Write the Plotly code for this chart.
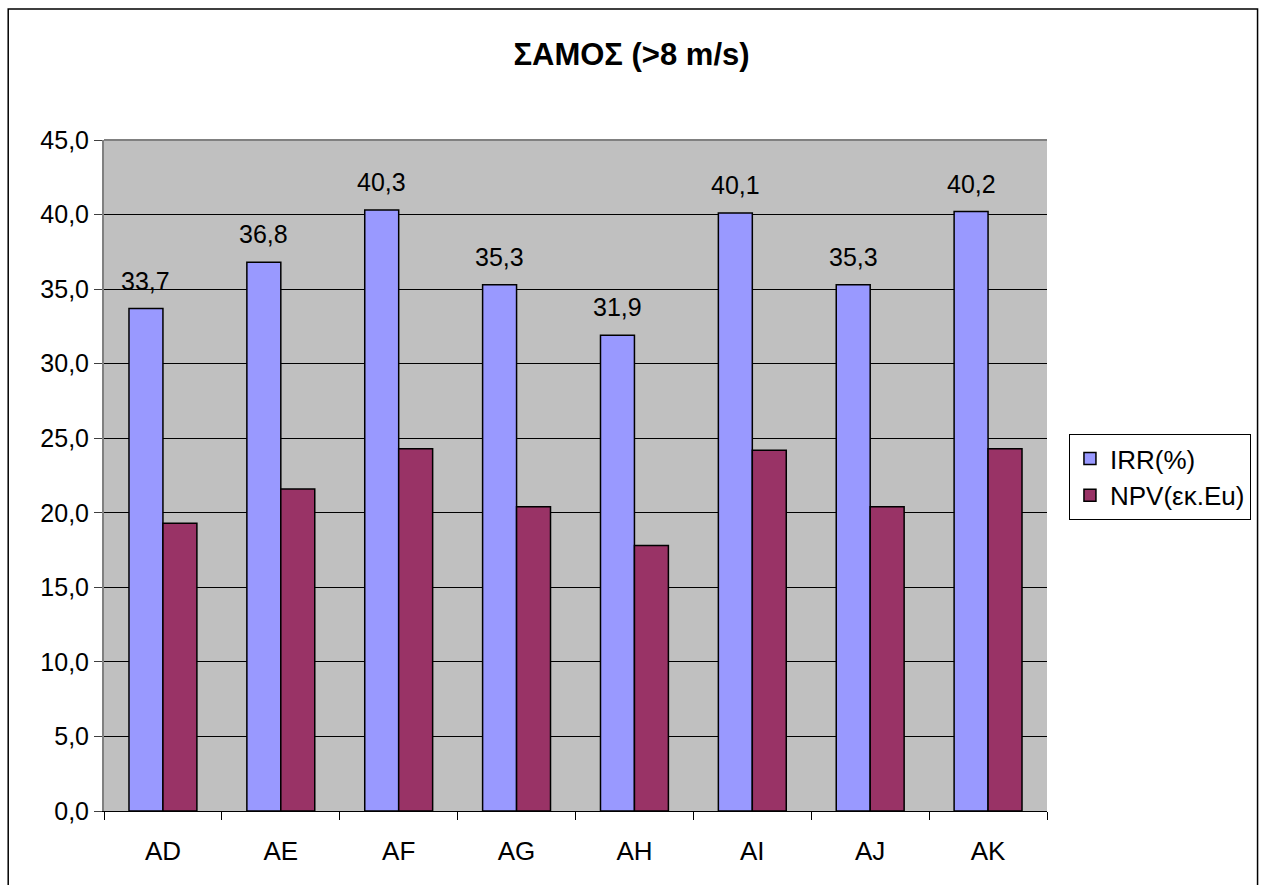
import plotly.graph_objects as go

categories = ["AD", "AE", "AF", "AG", "AH", "AI", "AJ", "AK"]
irr = [33.7, 36.8, 40.3, 35.3, 31.9, 40.1, 35.3, 40.2]
npv = [19.3, 21.6, 24.3, 20.4, 17.8, 24.2, 20.4, 24.3]
y_ticks = [0, 5, 10, 15, 20, 25, 30, 35, 40, 45]

FONT = "Liberation Sans, Arial, sans-serif"

W, H = 1263, 885
L, R, T, B = 104, 214, 140, 74
pw, ph = W - L - R, H - T - B

fig = go.Figure()
fig.add_trace(go.Bar(
    x=categories, y=irr, name="IRR(%)",
    marker=dict(color="#9999FF", line=dict(color="black", width=1.5)),
))
fig.add_trace(go.Bar(
    x=categories, y=npv, name="NPV(εκ.Eu)",
    marker=dict(color="#993366", line=dict(color="black", width=1.5)),
))

# value labels above the IRR bars
for c, v in zip(categories, irr):
    fig.add_annotation(
        x=c, y=v, text=f"{v:.1f}".replace(".", ","),
        showarrow=False, xshift=-17, yshift=12, yanchor="bottom",
        font=dict(family=FONT, size=25, color="black"),
    )

# outer chart frame
def px_x(p):
    return (p - L) / pw

def px_y(p):
    return (H - B - p) / ph

fig.add_shape(
    type="rect", xref="paper", yref="paper",
    x0=px_x(8), x1=px_x(1260), y0=px_y(895), y1=px_y(9),
    line=dict(color="black", width=1.5), fillcolor="rgba(0,0,0,0)",
    layer="below",
)
# top border of the plot area
fig.add_shape(
    type="line", xref="paper", yref="paper",
    x0=0, x1=1, y0=1, y1=1, line=dict(color="#808080", width=2),
)

fig.update_layout(
    width=W, height=H,
    margin=dict(l=L, r=R, t=T, b=B),
    paper_bgcolor="white",
    plot_bgcolor="#C0C0C0",
    separators=",.",
    barmode="group", bargap=0.424, bargroupgap=0,
    font=dict(family=FONT, size=25, color="black"),
    title=dict(
        text="<b>ΣΑΜΟΣ (>8 m/s)</b>", x=0.5, xanchor="center",
        y=1 - 54 / H, yanchor="middle",
        font=dict(family=FONT, size=31, color="black"),
    ),
    legend=dict(
        x=px_x(1071), y=px_y(434), xanchor="left", yanchor="top",
        bgcolor="white", bordercolor="black", borderwidth=1,
        font=dict(family=FONT, size=26),
        tracegroupgap=0,
    ),
    showlegend=True,
)

fig.update_xaxes(
    type="category", tickson="boundaries",
    ticks="outside", ticklen=8, tickcolor="black", tickwidth=1,
    showline=True, linecolor="black", linewidth=1,
    showgrid=False, ticklabelstandoff=17,
    tickfont=dict(family=FONT, size=26),
)
fig.update_yaxes(
    range=[0, 45], tickvals=y_ticks, tickformat=".1f",
    ticks="outside", ticklen=8, tickcolor="#404040", tickwidth=1,
    showline=True, linecolor="#808080", linewidth=2,
    showgrid=True, gridcolor="black", gridwidth=1,
    zeroline=False,
    tickfont=dict(family=FONT, size=25),
)

fig.write_html("out.html")
